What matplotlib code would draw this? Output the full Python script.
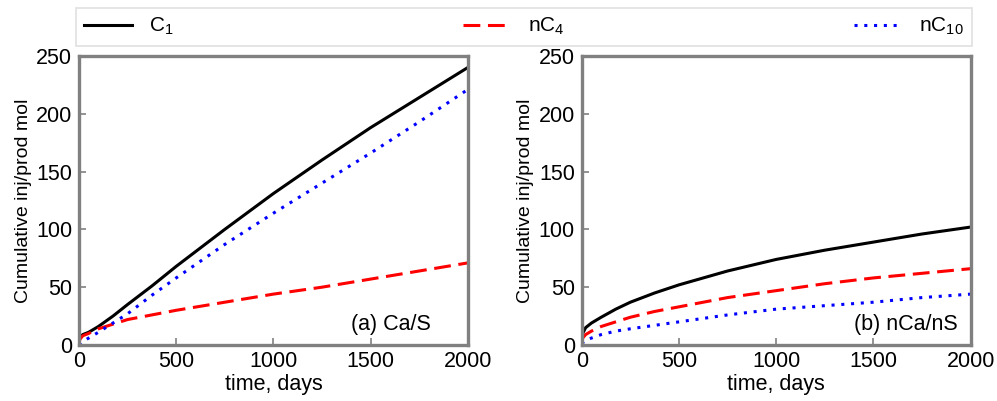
import numpy as np
import matplotlib.pyplot as plt

plt.rcParams['font.family'] = ['Liberation Sans', 'DejaVu Sans']
plt.rcParams['mathtext.default'] = 'regular'

# time points (days)
t = [0, 5, 20, 50, 100, 175, 250, 375, 500, 750, 1000, 1250, 1500, 1750, 2000]

# (a) Ca/S
c1_a = [4, 7, 9, 11, 16, 25, 35, 51, 68, 100, 131, 160, 188, 214, 240]
nc4_a = [2, 5, 8, 10, 14, 18, 22, 26, 30, 37, 44, 50, 57, 64, 71]
nc10_a = [0, 1, 3, 6, 11, 19, 27, 43, 58, 87, 114, 140, 166, 193, 221]

# (b) nCa/nS
c1_b = [3, 10, 15, 19, 24, 31, 37, 45, 52, 64, 74, 82, 89, 96, 102]
nc4_b = [3, 6, 9, 12, 16, 20, 24, 29, 33, 41, 47, 53, 58, 62, 66]
nc10_b = [1, 2, 4, 6, 9, 12, 14, 17, 20, 26, 31, 34, 37, 41, 44]

labels = ['C$_1$', 'nC$_4$', 'nC$_{10}$']
panels = [('(a) Ca/S', c1_a, nc4_a, nc10_a, 0.905),
          ('(b) nCa/nS', c1_b, nc4_b, nc10_b, 0.967)]

fig = plt.figure(figsize=(9.97, 4.01), dpi=100)
ax_pos = [[0.0792, 0.1397, 0.390, 0.7207],
          [0.5835, 0.1397, 0.390, 0.7207]]

handles = None
for pos, (tag, c1, nc4, nc10, tx) in zip(ax_pos, panels):
    ax = fig.add_axes(pos)
    h1, = ax.plot(t, c1, color='black', lw=2.2, label=labels[0])
    h2, = ax.plot(t, nc4, color='red', lw=2.2, ls=(0, (5.5, 2.5)), label=labels[1])
    h3, = ax.plot(t, nc10, color='blue', lw=2.2, ls=(0, (1, 2.2)), label=labels[2])
    handles = [h1, h2, h3]
    ax.set_xlim(0, 2000)
    ax.set_ylim(0, 250)
    ax.set_xticks([0, 500, 1000, 1500, 2000])
    ax.set_yticks([0, 50, 100, 150, 200, 250])
    ax.tick_params(direction='in', length=5, width=1.2, color='#808080',
                   labelsize=15.5)
    ax.tick_params(axis='x', pad=4)
    ax.tick_params(axis='y', pad=5)
    for s in ax.spines.values():
        s.set_color('#808080')
        s.set_linewidth(2.4)
    ax.set_xlabel('time, days', fontsize=15.5, labelpad=2)
    ax.set_ylabel('Cumulative inj/prod mol', fontsize=14, labelpad=3)
    ax.text(tx, 0.035, tag, transform=ax.transAxes, ha='right', va='bottom',
            fontsize=15.5)

leg = fig.legend(handles, labels, loc='lower left', ncol=3, mode='expand',
                 bbox_to_anchor=(0.0762, 0.8865, 0.8987, 0.091),
                 bbox_transform=fig.transFigure, fontsize=15, frameon=True,
                 fancybox=False, handlelength=2.3, borderaxespad=0)
leg.get_frame().set_edgecolor('#d9d9d9')
leg.get_frame().set_linewidth(1.2)

fig.savefig('out.png', dpi=100)
